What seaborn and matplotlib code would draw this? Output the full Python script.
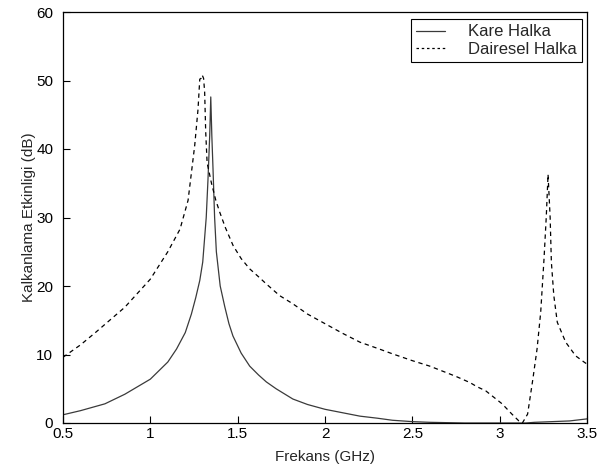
import matplotlib
matplotlib.use("Agg")
import matplotlib.pyplot as plt
import seaborn as sns
import pandas as pd

# Shielding effectiveness of the square ring (Kare Halka)
kare_f = [0.5, 0.6, 0.74, 0.854, 1.0, 1.1, 1.15, 1.2, 1.235, 1.26, 1.283, 1.30,
          1.32, 1.33, 1.34, 1.346, 1.352, 1.359, 1.368, 1.378, 1.40, 1.426, 1.45,
          1.473, 1.52, 1.569, 1.62, 1.664, 1.72, 1.816, 1.9, 2.0, 2.1, 2.2, 2.3,
          2.386, 2.5, 2.6, 2.8, 3.0, 3.15, 3.2, 3.3, 3.4, 3.5]
kare_se = [1.2, 1.8, 2.8, 4.2, 6.4, 8.9, 10.8, 13.2, 15.9, 18.3, 20.8, 23.5,
           30.0, 35.5, 42.0, 47.6, 42.0, 37.0, 30.0, 25.0, 20.0, 17.0, 14.5,
           12.7, 10.2, 8.3, 7.0, 6.0, 5.0, 3.5, 2.7, 2.0, 1.5, 1.0, 0.7,
           0.4, 0.2, 0.1, 0.0, 0.0, 0.0, 0.1, 0.2, 0.3, 0.6]

# Shielding effectiveness of the circular ring (Dairesel Halka)
daire_f = [0.5, 0.6, 0.69, 0.854, 1.0, 1.1, 1.17, 1.216, 1.254, 1.273, 1.283,
           1.29, 1.297, 1.305, 1.311, 1.317, 1.325, 1.35, 1.375, 1.397, 1.43,
           1.474, 1.52, 1.569, 1.626, 1.664, 1.74, 1.816, 1.9, 2.0, 2.1, 2.2,
           2.3, 2.386, 2.5, 2.6, 2.67, 2.75, 2.83, 2.87, 2.92, 3.014, 3.07,
           3.11, 3.13, 3.16, 3.19, 3.214, 3.235, 3.254, 3.267, 3.277, 3.289,
           3.296, 3.31, 3.33, 3.378, 3.435, 3.483, 3.5]
daire_se = [9.6, 11.4, 13.3, 16.9, 21.0, 25.0, 28.3, 32.5, 40.5, 45.8, 50.2,
            50.3, 50.8, 50.3, 48.3, 42.5, 38.0, 35.0, 32.5, 30.8, 28.5,
            25.9, 24.0, 22.5, 21.2, 20.3, 18.6, 17.4, 15.9, 14.5, 13.1, 11.8,
            10.9, 10.1, 9.1, 8.3, 7.6, 6.8, 5.9, 5.3, 4.7, 2.8, 1.3,
            0.3, 0.0, 1.3, 6.4, 10.8, 16.2, 24.0, 30.2, 36.3, 30.0,
            23.5, 18.6, 14.7, 11.8, 9.8, 8.9, 8.6]

x_ticks = [0.5, 1, 1.5, 2, 2.5, 3, 3.5]
x_tick_labels = ["0.5", "1", "1.5", "2", "2.5", "3", "3.5"]
y_ticks = [0, 10, 20, 30, 40, 50, 60]

kare = pd.DataFrame({"f": kare_f, "se": kare_se})
daire = pd.DataFrame({"f": daire_f, "se": daire_se})

sns.set_style("white")
plt.rcParams["font.family"] = ["Liberation Sans", "DejaVu Sans"]
plt.rcParams["font.size"] = 11

fig = plt.figure(figsize=(6.11, 4.71), dpi=100)
ax = fig.add_axes([63 / 611, 1 - 423 / 471, (587 - 63) / 611, (423 - 12) / 471])

sns.lineplot(data=kare, x="f", y="se", ax=ax, color="#3a3a3a", linewidth=0.9,
             label="Kare Halka", estimator=None, sort=False)
sns.lineplot(data=daire, x="f", y="se", ax=ax, color="black", linewidth=0.9,
             label="Dairesel Halka", estimator=None, sort=False)
ax.lines[1].set_dashes((3.5, 3))

ax.set_xlim(0.5, 3.5)
ax.set_ylim(0, 60)
ax.set_xticks(x_ticks)
ax.set_xticklabels(x_tick_labels)
ax.set_yticks(y_ticks)
ax.tick_params(direction="in", length=5, width=0.8, colors="black",
               labelsize=11, bottom=True, left=True, top=False, right=False)
ax.tick_params(axis="x", pad=3)
ax.tick_params(axis="y", pad=7)

for side in ax.spines.values():
    side.set_visible(True)
    side.set_color("black")
    side.set_linewidth(0.9)

ax.set_xlabel("Frekans (GHz)", fontsize=11, labelpad=6)
ax.set_ylabel("Kalkanlama Etkinligi (dB)", fontsize=11, labelpad=0)

leg = ax.legend(loc="upper right", bbox_to_anchor=(582 / 611, 1 - 19 / 471),
                bbox_transform=fig.transFigure, frameon=True, fancybox=False,
                edgecolor="black", framealpha=1, fontsize=12,
                handlelength=1.7, handletextpad=1.4, borderpad=0.32,
                labelspacing=0.15, borderaxespad=0)
leg.get_frame().set_linewidth(0.8)
leg.get_lines()[1].set_dashes((2, 2.2))

fig.savefig("out.png", dpi=100, facecolor="white")
